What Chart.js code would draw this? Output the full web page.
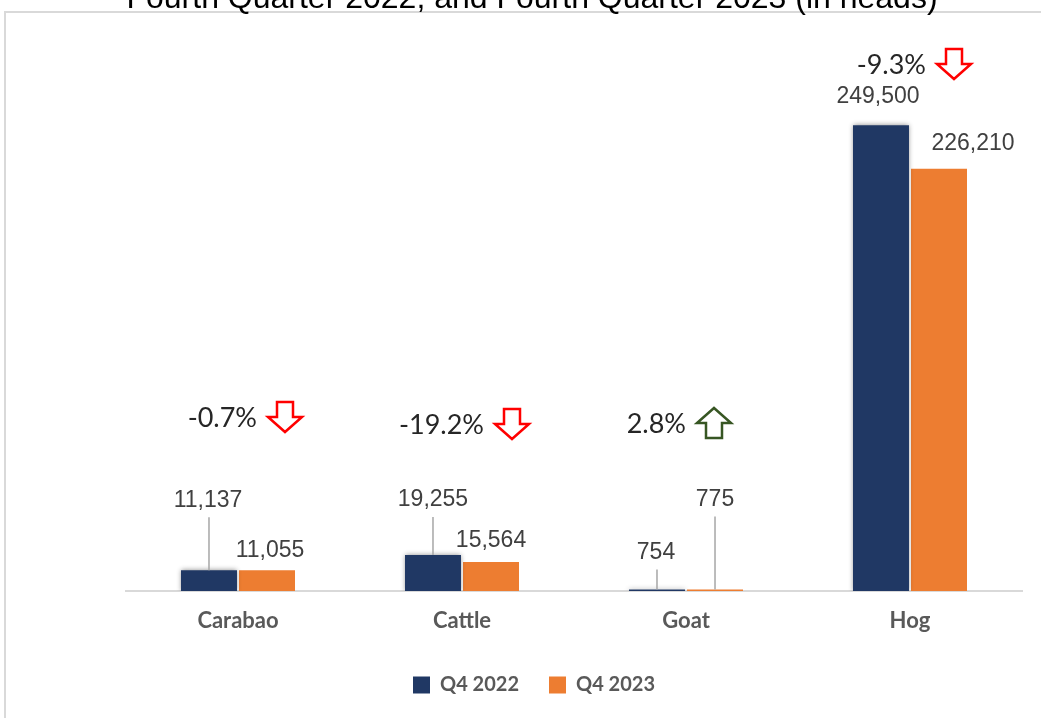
<!DOCTYPE html>
<html>
<head>
<meta charset="utf-8">
<script src="https://cdn.jsdelivr.net/npm/chart.js@4.4.1/dist/chart.umd.min.js"></script>
<style>
  html, body { margin: 0; padding: 0; background: #fff; }
  #wrap { width: 1041px; height: 718px; position: relative; }
</style>
</head>
<body>
<div id="wrap"><canvas id="chart"></canvas></div>
<script>
  // Livestock inventory, in heads
  var categories = ['Carabao', 'Cattle', 'Goat', 'Hog'];
  var seriesNames = ['Q4 2022', 'Q4 2023'];
  var q4_2022 = [11137, 19255, 754, 249500];
  var q4_2023 = [11055, 15564, 775, 226210];
  var titleLine = 'Fourth Quarter 2022, and Fourth Quarter 2023 (in heads)';

  var NAVY = '#203864';
  var ORANGE = '#ED7D31';

  // where each value label sits relative to the top of its bar
  var labelPos = [
    [{dx: -1, dy: -70, leader: true}, {dx: 0, dy: -55, leader: true},
     {dx: -1, dy: -37, leader: true}, {dx: -3, dy: -29}],
    [{dx: 3, dy: -20}, {dx: 0, dy: -21},
     {dx: 0, dy: -90, leader: true}, {dx: 34, dy: -25}]
  ];
  // change callouts: arrow centre offset from category centre, and y in px
  var calloutPos = [
    {dx: 47, y: 417}, {dx: 50, y: 424}, {dx: 28, y: 423}, {dx: 44, y: 64}
  ];

  function pctChange(a, b) {
    return (b - a) / a * 100;
  }

  function fmt(n) {
    return n.toLocaleString('en-US');
  }

  // block arrow outline, pointing down (dir = 1) or up (dir = -1)
  function blockArrow(ctx, cx, cy, dir, color) {
    var w = 34, h = 30, shaft = 16, head = 15;
    var t = cy - dir * h / 2;
    var m = t + dir * (h - head);
    var b = cy + dir * h / 2;
    ctx.save();
    ctx.beginPath();
    ctx.moveTo(cx - shaft / 2, t);
    ctx.lineTo(cx + shaft / 2, t);
    ctx.lineTo(cx + shaft / 2, m);
    ctx.lineTo(cx + w / 2, m);
    ctx.lineTo(cx, b);
    ctx.lineTo(cx - w / 2, m);
    ctx.lineTo(cx - shaft / 2, m);
    ctx.closePath();
    ctx.fillStyle = '#fff';
    ctx.fill();
    ctx.lineWidth = 2.5;
    ctx.lineJoin = 'miter';
    ctx.strokeStyle = color;
    ctx.stroke();
    ctx.restore();
  }

  var framePlugin = {
    id: 'frame',
    beforeDraw: function(chart) {
      var ctx = chart.ctx;
      ctx.save();
      ctx.strokeStyle = '#d9d9d9';
      ctx.lineWidth = 2;
      ctx.strokeRect(5, 12, 1060, 760);
      ctx.fillStyle = '#000';
      ctx.font = '32px "Liberation Sans", Arial, sans-serif';
      ctx.textAlign = 'center';
      ctx.textBaseline = 'alphabetic';
      ctx.fillText(titleLine, 532, 8);
      ctx.restore();
    }
  };

  // soft shadow under the navy bars
  var shadowPlugin = {
    id: 'barShadow',
    beforeDatasetDraw: function(chart, args) {
      if (args.index !== 0) return;
      var ctx = chart.ctx;
      ctx.save();
      ctx.shadowColor = 'rgba(0,0,0,0.45)';
      ctx.shadowBlur = 5;
    },
    afterDatasetDraw: function(chart, args) {
      if (args.index !== 0) return;
      chart.ctx.restore();
    }
  };

  var labelPlugin = {
    id: 'valueLabels',
    afterDatasetsDraw: function(chart) {
      var ctx = chart.ctx;
      var xs = chart.scales.x;
      ctx.save();
      ctx.textAlign = 'center';
      ctx.textBaseline = 'middle';

      chart.data.datasets.forEach(function(ds, di) {
        var meta = chart.getDatasetMeta(di);
        meta.data.forEach(function(bar, i) {
          var p = labelPos[di][i];
          var lx = bar.x + p.dx;
          var ly = bar.y + p.dy;
          if (p.leader) {
            ctx.beginPath();
            ctx.strokeStyle = '#a6a6a6';
            ctx.lineWidth = 1.5;
            ctx.moveTo(bar.x, ly + 17);
            ctx.lineTo(bar.x, bar.y);
            ctx.stroke();
          }
          ctx.fillStyle = '#404040';
          ctx.font = '23px "Liberation Sans", Arial, sans-serif';
          ctx.fillText(fmt(ds.data[i]), lx, ly);
        });
      });

      // percent change between the two quarters
      categories.forEach(function(c, i) {
        var chg = pctChange(q4_2022[i], q4_2023[i]);
        var cp = calloutPos[i];
        var ax = xs.getPixelForValue(i) + cp.dx;
        var up = chg >= 0;
        ctx.font = '27px Lato, "Noto Sans", sans-serif';
        ctx.fillStyle = '#262626';
        ctx.textAlign = 'right';
        ctx.fillText(chg.toFixed(1) + '%', ax - 28, cp.y + 1);
        blockArrow(ctx, ax, cp.y, up ? -1 : 1, up ? '#375623' : '#ff0000');
      });
      ctx.restore();
    }
  };

  new Chart(document.getElementById('chart'), {
    type: 'bar',
    data: {
      labels: categories,
      datasets: [
        {label: seriesNames[0], data: q4_2022, backgroundColor: NAVY, borderWidth: 0},
        {label: seriesNames[1], data: q4_2023, backgroundColor: ORANGE, borderWidth: 0}
      ]
    },
    options: {
      responsive: true,
      maintainAspectRatio: false,
      animation: false,
      events: [],
      datasets: {
        bar: {categoryPercentage: 0.518, barPercentage: 0.965}
      },
      layout: {
        padding: {top: 31, left: 46, right: 19, bottom: 13}
      },
      scales: {
        x: {
          grid: {display: false, drawTicks: false},
          border: {display: true, color: '#d9d9d9', width: 2},
          ticks: {
            color: '#595959',
            padding: 17,
            font: {family: 'Lato, "Noto Sans", sans-serif', size: 22, weight: 'bold'}
          },
          afterFit: function(scale) { scale.height = 54; }
        },
        y: {
          min: 0,
          max: 300000,
          grid: {display: false},
          border: {display: false},
          ticks: {display: false},
          afterFit: function(scale) { scale.width = 80; }
        }
      },
      plugins: {
        title: {display: false},
        tooltip: {enabled: false},
        legend: {
          position: 'bottom',
          labels: {
            boxWidth: 17,
            boxHeight: 17,
            padding: 30,
            color: '#595959',
            font: {family: 'Lato, "Noto Sans", sans-serif', size: 20, weight: 'bold'}
          }
        }
      }
    },
    plugins: [framePlugin, shadowPlugin, labelPlugin]
  });
</script>
</body>
</html>
